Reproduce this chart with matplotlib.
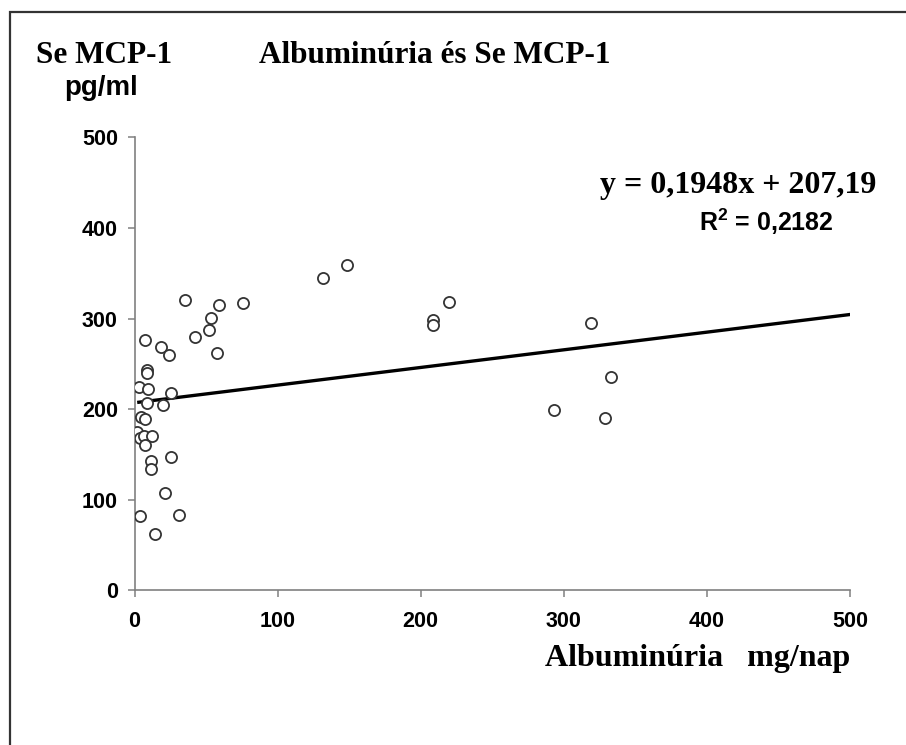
import matplotlib
matplotlib.use('Agg')
import matplotlib.pyplot as plt
from matplotlib.patches import Rectangle

# albuminuria (mg/nap) vs serum MCP-1 (pg/ml)
albuminuria = [35.4, 59.1, 75.9, 53.3, 51.9, 42.6, 57.5, 7.2, 18.4, 24.2,
               8.8, 8.8, 3.0, 9.3, 25.6, 8.8, 19.8, 4.2, 7.2, 1.4,
               3.7, 6.5, 11.9, 7.2, 11.6, 25.6, 11.6, 21.4, 3.5, 31.2,
               14.4, 131.8, 148.5, 219.7, 208.6, 208.6, 318.9, 332.9, 292.8, 328.9]
mcp1 = [321, 315, 317, 301, 288, 280, 262, 277, 269, 260,
        243, 240, 225, 222, 218, 207, 205, 192, 189, 175,
        168, 171, 170, 161, 143, 147, 134, 108, 82, 83,
        62, 345, 359, 318, 299, 293, 295, 236, 199, 190]

slope = 0.1948
intercept = 207.19
r_squared = 0.2182
trend_x = [3, 500]

x_ticks = [0, 100, 200, 300, 400, 500]
y_ticks = [0, 100, 200, 300, 400, 500]

serif = 'Liberation Serif'
sans = 'Liberation Sans'
plt.rcParams['mathtext.fontset'] = 'custom'
plt.rcParams['mathtext.bf'] = 'Liberation Sans:bold'
plt.rcParams['mathtext.rm'] = 'Liberation Sans:bold'

fig = plt.figure(figsize=(9.06, 7.45), dpi=100)
ax = fig.add_axes([0.1485, 0.2074, 0.7897, 0.6081])

ax.plot(albuminuria, mcp1, linestyle='none', marker='o', markersize=8,
        markerfacecolor='white', markeredgecolor='#333333', markeredgewidth=1.3, zorder=3)
trend_y = [slope * x + intercept for x in trend_x]
ax.plot(trend_x, trend_y, color='black', linewidth=2.4, zorder=2)

ax.set_xlim(0, 500)
ax.set_ylim(0, 500)
ax.set_xticks(x_ticks)
ax.set_yticks(y_ticks)
ax.set_xticklabels([str(t) for t in x_ticks], fontfamily=sans, fontweight='bold', fontsize=15.5)
ax.set_yticklabels([str(t) for t in y_ticks], fontfamily=sans, fontweight='bold', fontsize=15.5)
ax.tick_params(axis='both', direction='out', length=5, width=1.1, color='#808080')
ax.tick_params(axis='x', pad=10)
ax.tick_params(axis='y', pad=7)
for side in ['top', 'right']:
    ax.spines[side].set_visible(False)
for side in ['left', 'bottom']:
    ax.spines[side].set_color('#808080')
    ax.spines[side].set_linewidth(1.2)

fig.text(0.0397, 0.915, 'Se MCP-1', fontfamily=serif, fontweight='bold', fontsize=22.5,
         ha='left', va='baseline')
fig.text(0.0706, 0.873, 'pg/ml', fontfamily=sans, fontweight='bold', fontsize=20,
         ha='left', va='baseline')
fig.text(0.286, 0.915, 'Albuminúria és Se MCP-1', fontfamily=serif, fontweight='bold',
         fontsize=22.5, ha='left', va='baseline')
fig.text(0.967, 0.741, 'y = 0,1948x + 207,19', fontfamily=serif, fontweight='bold',
         fontsize=23, ha='right', va='baseline')
fig.text(0.92, 0.690, r'R$^{\mathbf{2}}$ = 0,2182', fontfamily=sans, fontweight='bold',
         fontsize=18, ha='right', va='baseline')
fig.text(0.938, 0.106, 'Albuminúria   mg/nap', fontfamily=serif, fontweight='bold',
         fontsize=23, ha='right', va='baseline')

frame = Rectangle((10 / 906, -0.05), 1.1, 1 - 12 / 745 + 0.05, transform=fig.transFigure,
                  fill=False, edgecolor='#333333', linewidth=1.6, clip_on=False)
fig.patches.append(frame)

fig.savefig('out.png', dpi=100)
